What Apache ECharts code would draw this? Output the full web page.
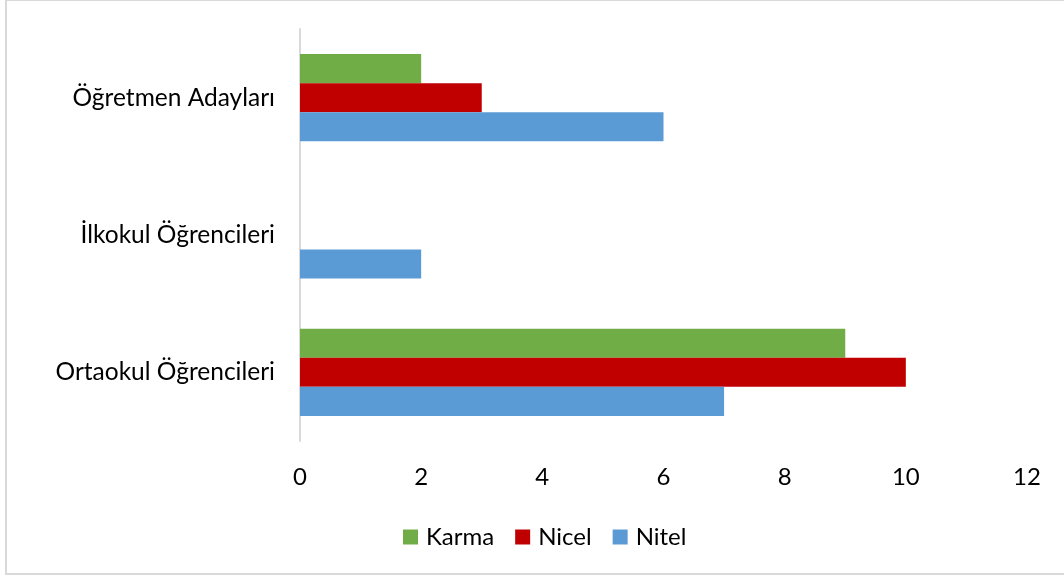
<!DOCTYPE html>
<html>
<head>
<meta charset="utf-8">
<script src="https://cdn.jsdelivr.net/npm/echarts@6/dist/echarts.min.js"></script>
<style>
  html, body { margin: 0; padding: 0; background: #fff; overflow: hidden; }
  #frame { position: absolute; left: 5px; top: -1px; width: 1070px; height: 576px; border: 2px solid #d9d9d9; box-sizing: border-box; }
  #chart { position: absolute; left: 0; top: 0; width: 1064px; height: 579px; }
</style>
</head>
<body>
<div id="frame"></div>
<div id="chart"></div>
<script>
const categories = ['Ortaokul Öğrencileri', 'İlkokul Öğrencileri', 'Öğretmen Adayları']
const nitel = [7, 2, 6]
const nicel = [10, 0, 3]
const karma = [9, 0, 2]
const xTicks = [0, 12, 2]

const chart = echarts.init(document.getElementById('chart'))
const font = 'Lato, "Open Sans", sans-serif'

const option = {
  textStyle: { fontFamily: font, color: '#000' },
  legend: {
    data: ['Karma', 'Nicel', 'Nitel'],
    top: 520,
    left: 398,
    itemWidth: 15,
    itemHeight: 15,
    itemGap: 21,
    icon: 'rect',
    textStyle: { fontSize: 24, color: '#000', fontFamily: font, padding: [0, 0, 0, 3] }
  },
  grid: { left: 300, right: 37, top: 29, bottom: 138 },
  xAxis: {
    type: 'value',
    min: xTicks[0],
    max: xTicks[1],
    interval: xTicks[2],
    axisLine: { show: false },
    axisTick: { show: false },
    splitLine: { show: false },
    axisLabel: { fontSize: 24, color: '#000', margin: 24, fontFamily: font }
  },
  yAxis: {
    type: 'category',
    data: categories,
    axisLine: { lineStyle: { color: '#d9d9d9', width: 2 } },
    axisTick: { show: false },
    axisLabel: { fontSize: 24.5, color: '#000', margin: 25, fontFamily: font }
  },
  series: [
    { name: 'Karma', type: 'bar', data: karma, color: '#70ad47', barGap: '0%', barCategoryGap: '36.5%' },
    { name: 'Nicel', type: 'bar', data: nicel, color: '#c00000', barGap: '0%', barCategoryGap: '36.5%' },
    { name: 'Nitel', type: 'bar', data: nitel, color: '#5b9bd5', barGap: '0%', barCategoryGap: '36.5%' }
  ]
}
chart.setOption(option)
</script>
</body>
</html>
